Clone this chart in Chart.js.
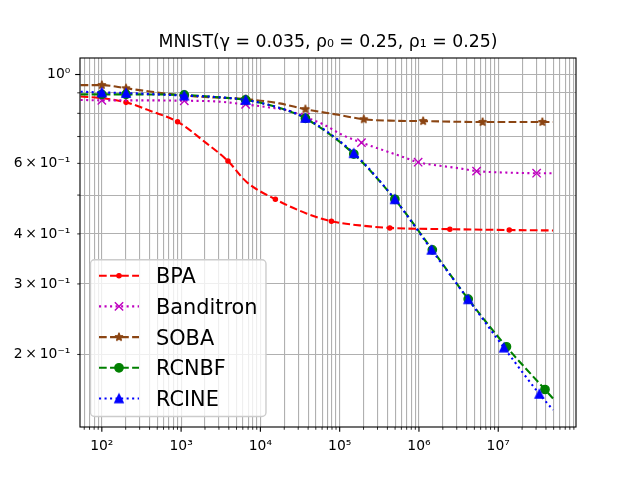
<!DOCTYPE html>
<html><head><meta charset="utf-8">
<script src="https://cdn.jsdelivr.net/npm/chart.js@4.4.0/dist/chart.umd.min.js"></script>
<style>html,body{margin:0;padding:0;background:#fff;}</style>
</head><body>
<canvas id="c" width="640" height="480" style="width:640px;height:480px;display:block"></canvas>
<script>
// ---------- data ----------
const seriesNames = ['BPA', 'Banditron', 'SOBA', 'RCNBF', 'RCINE'];

const bpaX = [54, 100, 202, 441, 903, 2080, 3900, 6650, 15450, 38100, 78700, 179500, 429300, 2456000, 13780000, 49100000];
const bpaY = [0.881, 0.873, 0.852, 0.807, 0.762, 0.674, 0.608, 0.540, 0.488, 0.450, 0.430, 0.420, 0.414, 0.411, 0.409, 0.408];
const bpaMarks = [2, 4, 6, 8, 10, 12, 13, 14];

const banditronX = [54, 100, 400, 1096, 2650, 6517, 13100, 23400, 36980, 61200, 109000, 188400, 429300, 697000, 976000, 1836000, 3280000, 5330000, 12760000, 30500000, 49100000];
const banditronY = [0.864, 0.862, 0.862, 0.860, 0.857, 0.842, 0.827, 0.811, 0.783, 0.752, 0.706, 0.676, 0.639, 0.618, 0.604, 0.592, 0.583, 0.574, 0.569, 0.567, 0.567];
const banditronMarks = [1, 3, 5, 8, 11, 14, 17, 19];

const sobaX = [54, 100, 202, 400, 1096, 2650, 6517, 17500, 36980, 100300, 201500, 429300, 1130000, 6350000, 36000000, 49100000];
const sobaY = [0.941, 0.941, 0.924, 0.907, 0.886, 0.876, 0.868, 0.847, 0.819, 0.792, 0.773, 0.767, 0.765, 0.761, 0.761, 0.761];
const sobaMarks = [1, 2, 4, 6, 8, 10, 12, 13, 14];

const rcnbfX = [54, 100, 202, 1096, 2650, 6517, 15170, 36980, 150700, 496600, 1475000, 4180000, 12700000, 38900000, 49100000];
const rcnbfY = [0.892, 0.892, 0.892, 0.889, 0.879, 0.864, 0.832, 0.777, 0.633, 0.488, 0.365, 0.275, 0.209, 0.1635, 0.1553];
const rcnbfMarks = [1, 2, 3, 5, 7, 8, 9, 10, 11, 12, 13];

const rcineX = [54, 100, 202, 1096, 2650, 6517, 15170, 36980, 150700, 496600, 1443000, 4180000, 11800000, 33000000, 49100000];
const rcineY = [0.906, 0.902, 0.899, 0.886, 0.879, 0.864, 0.832, 0.779, 0.636, 0.488, 0.365, 0.2747, 0.208, 0.1594, 0.1454];
const rcineMarks = [1, 2, 3, 5, 7, 8, 9, 10, 11, 12, 13];

// ---------- axes / ticks ----------
const xMin = 53.05, xMax = 9.57e7;
const yMin = 0.1318, yMax = 1.0996;
const xMajorTicks = [1e2, 1e3, 1e4, 1e5, 1e6, 1e7];
const xTickLabels = ['10²', '10³', '10⁴', '10⁵', '10⁶', '10⁷'];
const xDecades = [1e1, 1e2, 1e3, 1e4, 1e5, 1e6, 1e7];
const minorMultipliers = [2, 3, 4, 5, 6, 7, 8, 9];
const yMajorTicks = [1];
const yMinorTicks = [0.2, 0.3, 0.4, 0.5, 0.6, 0.7, 0.8, 0.9];
const yLabelValues = [1, 0.6, 0.4, 0.3, 0.2];
const yTickLabels = ['10⁰', '6\u2009×\u200910⁻¹', '4\u2009×\u200910⁻¹', '3\u2009×\u200910⁻¹', '2\u2009×\u200910⁻¹'];
const titleText = 'MNIST(γ = 0.035, ρ₀ = 0.25, ρ₁ = 0.25)';

const xMinorTicks = [];
xDecades.forEach(d => minorMultipliers.forEach(m => { const v = d * m; if (v >= xMin && v <= xMax) xMinorTicks.push(v); }));
const xAllTicks = xMajorTicks.map(v => ({value: v, major: true}))
  .concat(xMinorTicks.map(v => ({value: v, major: false})))
  .sort((a, b) => a.value - b.value);
const yAllTicks = yMajorTicks.map(v => ({value: v, major: true}))
  .concat(yMinorTicks.map(v => ({value: v, major: false})))
  .sort((a, b) => a.value - b.value);

function sameVal(a, b) { return Math.abs(Math.log10(a) - Math.log10(b)) < 1e-7; }
function lookupLabel(vals, labels, v) {
  for (let i = 0; i < vals.length; i++) if (sameVal(vals[i], v)) return labels[i];
  return '';
}

// ---------- styles ----------
const FONT = 'DejaVu Sans';
const PT = 100 / 72;
const LW = 1.5 * PT;
const DASHED = [3.7 * LW, 1.6 * LW];
const DOTTED = [1 * LW, 1.65 * LW];
const MS = 6 * PT;          // marker size
const MEW = 1 * PT;         // marker edge width

function makeStar(color) {
  const s = 18, c = document.createElement('canvas'); c.width = s; c.height = s;
  const g = c.getContext('2d'); const R = MS / 2, r = R * 0.381966;
  g.beginPath();
  for (let i = 0; i < 10; i++) {
    const a = -Math.PI / 2 + i * Math.PI / 5; const rr = (i % 2) ? r : R;
    g.lineTo(s / 2 + rr * Math.cos(a), s / 2 + rr * Math.sin(a));
  }
  g.closePath(); g.fillStyle = color; g.fill();
  g.lineWidth = MEW; g.strokeStyle = color; g.lineJoin = 'bevel'; g.stroke();
  return c;
}
function makeTriangle(color) {
  const s = 18, c = document.createElement('canvas'); c.width = s; c.height = s;
  const g = c.getContext('2d'); const R = MS / 2;
  g.beginPath();
  g.moveTo(s / 2, s / 2 - R); g.lineTo(s / 2 - R, s / 2 + R); g.lineTo(s / 2 + R, s / 2 + R);
  g.closePath(); g.fillStyle = color; g.fill();
  g.lineWidth = MEW; g.strokeStyle = color; g.lineJoin = 'miter'; g.stroke();
  return c;
}

const styles = [
  {color: '#ff0000', dash: DASHED, point: 'circle', radius: MS / 4},
  {color: '#bf00bf', dash: DOTTED, point: 'crossRot', radius: (MS / 2) / Math.SQRT1_2},
  {color: '#8b4513', dash: DASHED, point: makeStar('#8b4513'), radius: 5},
  {color: '#008000', dash: DASHED, point: 'circle', radius: MS / 2},
  {color: '#0000ff', dash: DOTTED, point: makeTriangle('#0000ff'), radius: 5}
];

const seriesX = [bpaX, banditronX, sobaX, rcnbfX, rcineX];
const seriesY = [bpaY, banditronY, sobaY, rcnbfY, rcineY];
const seriesMarks = [bpaMarks, banditronMarks, sobaMarks, rcnbfMarks, rcineMarks];

const datasets = seriesNames.map((name, i) => {
  const st = styles[i];
  const marks = seriesMarks[i];
  return {
    label: name,
    data: seriesX[i].map((x, j) => ({x: x, y: seriesY[i][j]})),
    borderColor: st.color,
    backgroundColor: st.color,
    borderWidth: LW,
    borderDash: st.dash,
    borderCapStyle: 'butt',
    cubicInterpolationMode: 'monotone',
    pointStyle: st.point,
    pointRadius: ctx => marks.includes(ctx.dataIndex) ? st.radius : 0,
    pointHoverRadius: ctx => marks.includes(ctx.dataIndex) ? st.radius : 0,
    pointBorderWidth: MEW,
    pointBorderColor: st.color,
    pointBackgroundColor: st.color,
    order: seriesNames.length - i,
    fill: false
  };
});

// ---------- plugin: spines, tick marks, legend ----------
const mplPlugin = {
  id: 'mpl',
  afterDatasetsDraw(chart) {
    const {ctx, chartArea: a} = chart;
    const xs = chart.scales.x, ys = chart.scales.y;
    ctx.save();
    ctx.strokeStyle = '#000';
    ctx.setLineDash([]);
    xAllTicks.forEach(t => {
      const p = xs.getPixelForValue(t.value);
      ctx.lineWidth = t.major ? 0.8 * PT : 0.6 * PT;
      const len = t.major ? 3.5 * PT : 2 * PT;
      ctx.beginPath(); ctx.moveTo(p, a.bottom); ctx.lineTo(p, a.bottom + len); ctx.stroke();
    });
    yAllTicks.forEach(t => {
      const p = ys.getPixelForValue(t.value);
      ctx.lineWidth = t.major ? 0.8 * PT : 0.6 * PT;
      const len = t.major ? 3.5 * PT : 2 * PT;
      ctx.beginPath(); ctx.moveTo(a.left, p); ctx.lineTo(a.left - len, p); ctx.stroke();
    });
    ctx.lineWidth = 0.8 * PT;
    ctx.strokeRect(a.left, a.top, a.right - a.left, a.bottom - a.top);

    // legend (lower left)
    const fs = 15 * PT;
    ctx.font = fs + 'px "' + FONT + '"';
    let maxW = 0;
    chart.data.datasets.forEach(d => { maxW = Math.max(maxW, ctx.measureText(d.label).width); });
    const bx = a.left + 10.5;
    const bw = 8.5 + 40 + 17 + maxW + 8.5;
    const rowH = 30.7;
    const bh = 16 + rowH * (chart.data.datasets.length - 1) + 18;
    const by = a.bottom - 10.5 - bh;
    const rr = 4;
    ctx.beginPath();
    ctx.moveTo(bx + rr, by);
    ctx.lineTo(bx + bw - rr, by); ctx.arcTo(bx + bw, by, bx + bw, by + rr, rr);
    ctx.lineTo(bx + bw, by + bh - rr); ctx.arcTo(bx + bw, by + bh, bx + bw - rr, by + bh, rr);
    ctx.lineTo(bx + rr, by + bh); ctx.arcTo(bx, by + bh, bx, by + bh - rr, rr);
    ctx.lineTo(bx, by + rr); ctx.arcTo(bx, by, bx + rr, by, rr);
    ctx.closePath();
    ctx.fillStyle = 'rgba(255,255,255,0.8)'; ctx.fill();
    ctx.lineWidth = 1 * PT; ctx.strokeStyle = '#cccccc'; ctx.stroke();

    chart.data.datasets.forEach((d, i) => {
      const st = styles[i];
      const cy = by + 16 + i * rowH;
      const x0 = bx + 8.5, x1 = x0 + 40;
      ctx.strokeStyle = st.color; ctx.lineWidth = LW; ctx.setLineDash(st.dash); ctx.lineCap = 'butt';
      ctx.beginPath(); ctx.moveTo(x0, cy); ctx.lineTo(x1, cy); ctx.stroke();
      ctx.setLineDash([]);
      ctx.fillStyle = st.color; ctx.strokeStyle = st.color; ctx.lineWidth = MEW;
      Chart.helpers.drawPoint(ctx, {pointStyle: st.point, radius: st.radius, borderWidth: MEW, rotation: 0}, (x0 + x1) / 2, cy);
      ctx.fillStyle = '#000';
      ctx.textBaseline = 'alphabetic'; ctx.textAlign = 'left';
      ctx.fillText(d.label, x1 + 17, cy + 7.6);
    });
    ctx.restore();
  }
};

new Chart(document.getElementById('c'), {
  type: 'line',
  data: {datasets: datasets},
  plugins: [mplPlugin],
  options: {
    responsive: false,
    animation: false,
    events: [],
    layout: {padding: {left: 0, right: 64, top: 0, bottom: 0}},
    plugins: {
      legend: {display: false},
      tooltip: {enabled: false},
      title: {
        display: true, text: titleText, color: '#000', fullSize: false,
        font: {family: FONT, size: 17.3, weight: 'normal', lineHeight: 1.2},
        padding: {top: 32.5, bottom: 4.74}
      }
    },
    scales: {
      x: {
        type: 'logarithmic', min: xMin, max: xMax, bounds: 'data',
        afterBuildTicks: s => { s.ticks = xAllTicks.map(t => ({value: t.value, major: t.major})); },
        afterFit: s => { s.height = 53; },
        border: {display: false},
        grid: {color: '#b0b0b0', lineWidth: 0.8 * PT, drawTicks: true, tickLength: 3.5 * PT, tickColor: 'rgba(0,0,0,0)'},
        ticks: {
          autoSkip: false, maxRotation: 0, minRotation: 0, padding: 6, color: '#000',
          font: {family: FONT, size: 10 * PT},
          callback: v => lookupLabel(xMajorTicks, xTickLabels, v)
        }
      },
      y: {
        type: 'logarithmic', min: yMin, max: yMax, bounds: 'data',
        afterBuildTicks: s => { s.ticks = yAllTicks.map(t => ({value: t.value, major: t.major})); },
        afterFit: s => { s.width = 80; },
        border: {display: false},
        grid: {color: '#b0b0b0', lineWidth: 0.8 * PT, drawTicks: true, tickLength: 3.5 * PT, tickColor: 'rgba(0,0,0,0)'},
        ticks: {
          autoSkip: false, padding: 3.5 * PT, color: '#000',
          font: {family: FONT, size: 10 * PT},
          callback: v => lookupLabel(yLabelValues, yTickLabels, v)
        }
      }
    }
  }
});
</script>
</body></html>
